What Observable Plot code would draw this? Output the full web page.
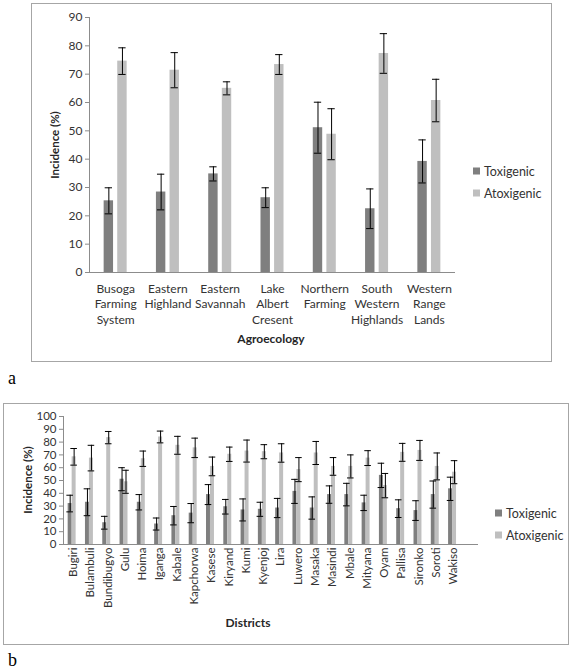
<!DOCTYPE html>
<html><head><meta charset="utf-8">
<script src="https://cdn.jsdelivr.net/npm/d3@7"></script>
<script src="https://cdn.jsdelivr.net/npm/@observablehq/plot@0.6"></script>
<style>
body{margin:0;background:#fff;font-family:Lato,"Open Sans",sans-serif;color:#333;}
#page{position:relative;width:576px;height:670px;overflow:hidden}
.box{position:absolute;border:1px solid #a6a6a6;box-sizing:border-box;}
.chart{position:absolute;}
.letter{position:absolute;font-family:"Liberation Serif",serif;font-size:18px;color:#000;line-height:1}
.ytitle{position:absolute;font-weight:bold;font-size:11.5px;transform:translate(-50%,-50%) rotate(-90deg);white-space:nowrap;color:#262626}
.xtitle{position:absolute;font-weight:bold;font-size:12px;transform:translate(-50%,-50%);white-space:nowrap;color:#262626}
.leg{position:absolute;font-size:12.5px;display:flex;align-items:center;gap:4px;transform:translateY(-50%);white-space:nowrap;color:#333}
.sw{width:7px;height:7px;display:inline-block}
</style></head><body><div id="page"></div>
<script>
// ---------- Panel a: agroecology ----------
const agroLabels = ["Busoga\nFarming\nSystem","Eastern\nHighland","Eastern\nSavannah","Lake\nAlbert\nCresent","Northern\nFarming","South\nWestern\nHighlands","Western\nRange\nLands"];
const agroTox     = [25.3, 28.4, 34.8, 26.4, 51.1, 22.5, 39.2];
const agroToxErr  = [4.6, 6.3, 2.5, 3.5, 9.0, 7.0, 7.6];
const agroAtox    = [74.6, 71.4, 65.0, 73.4, 48.8, 77.3, 60.7];
const agroAtoxErr = [4.7, 6.2, 2.3, 3.5, 9.0, 7.0, 7.5];
const yTicksA = [0,10,20,30,40,50,60,70,80,90];

// ---------- Panel b: districts ----------
const districts = ["Bugiri","Bulambuli","Bundibugyo","Gulu","Hoima","Iganga","Kabale","Kapchorwa","Kasese","Kiryand","Kumi","Kyenjoj","Lira","Luwero","Masaka","Masindi","Mbale","Mityana","Oyam","Pallisa","Sironko","Soroti","Wakiso"];
const distTox     = [32, 33, 17, 51, 33, 16, 22.5, 24.5, 39, 29.5, 27, 27.5, 28.5, 41.5, 28.5, 39, 39, 32.5, 54, 28, 26.5, 39, 43.5];
const distToxErr  = [6.5, 10.5, 5, 9, 6, 4.7, 7.2, 7.5, 7.8, 5.7, 8.6, 5.5, 7.5, 9.4, 8.7, 6.8, 8.8, 6, 9.5, 6.9, 7.7, 10.6, 9.1];
const distAtox    = [68.5, 67.5, 83.5, 49, 67, 84, 77.5, 75.5, 61, 70.5, 73, 72.5, 71.5, 58.5, 71.5, 61, 61, 67.5, 46, 72, 73.5, 61, 56.5];
const distAtoxErr = [6.5, 10, 4.8, 9, 6, 4.6, 7, 7.6, 7.3, 5.6, 8.6, 5.5, 7.2, 9.4, 9, 6.9, 9, 5.8, 9.5, 7, 7.8, 10.5, 9];
const yTicksB = [0,10,20,30,40,50,60,70,80,90,100];

const seriesNames = ["Toxigenic","Atoxigenic"];
const seriesColors = ["#7f7f7f","#bfbfbf"];

const page = document.getElementById("page");
function add(html){ const d=document.createElement("div"); d.innerHTML=html; const el=d.firstChild; page.appendChild(el); return el; }

function rows(tox, toxE, atox, atoxE){
  return tox.flatMap((v,i)=>[
    {i, s:"Toxigenic", v, e:toxE[i]},
    {i, s:"Atoxigenic", v:atox[i], e:atoxE[i]}
  ]);
}

function makeChart({data, n, slots, cap, labels, yTicks, yMax, width, height, mt, mr, mb, ml, fontSize, rotate, tickPad}){
  const lo = d => d.i + slots[d.s][0];
  const hi = d => d.i + slots[d.s][1];
  const mid = d => d.i + (slots[d.s][0]+slots[d.s][1])/2;
  return Plot.plot({
    width, height, marginTop: mt, marginRight: mr, marginBottom: mb, marginLeft: ml,
    style:{fontFamily:"Lato, 'Open Sans', sans-serif", fontSize: fontSize+"px", background:"transparent", color:"#333", overflow:"visible"},
    x:{domain:[0,n], axis:null, label:null},
    y:{domain:[0,yMax], axis:null, label:null},
    color:{domain:seriesNames, range:seriesColors},
    marks:[
      Plot.rectY(data, {x1: lo, x2: hi, y1: 0, y2: "v", fill: "s"}),
      Plot.ruleX(data, {x: mid, y1: d=>d.v-d.e, y2: d=>d.v+d.e, stroke:"#000", strokeWidth:1}),
      Plot.ruleY(data, {y: d=>d.v+d.e, x1: d=>mid(d)-cap, x2: d=>mid(d)+cap, stroke:"#000", strokeWidth:1}),
      Plot.ruleY(data, {y: d=>d.v-d.e, x1: d=>mid(d)-cap, x2: d=>mid(d)+cap, stroke:"#000", strokeWidth:1}),
      Plot.ruleY([0], {stroke:"#8c8c8c"}),
      Plot.ruleX([0], {stroke:"#8c8c8c"}),
      Plot.axisY({ticks: yTicks, label: null, tickSize: 4, tickPadding: 3, stroke:"#8c8c8c", fill:"#333", tickFormat: d=>String(d)}),
      Plot.axisX({ticks: labels.map((_,i)=>i+0.5), label: null, tickFormat: d=>labels[Math.floor(d)], tickSize: 0, tickPadding: tickPad, tickRotate: rotate, fill:"#333", lineHeight: 1.3})
    ]
  });
}

// Panel a
add('<div class="box" style="left:31px;top:3px;width:521px;height:359px"></div>');
const chartA = makeChart({
  data: rows(agroTox, agroToxErr, agroAtox, agroAtoxErr), n: agroLabels.length,
  slots: {Toxigenic:[0.28,0.46], Atoxigenic:[0.54,0.72]}, cap: 0.07,
  labels: agroLabels, yTicks: yTicksA, yMax: 90,
  width: 521, height: 359, mt: 14, mr: 97, mb: 90, ml: 58, fontSize: 12, rotate: 0, tickPad: 9
});
chartA.classList.add("chart"); chartA.style.left="31px"; chartA.style.top="3px";
page.appendChild(chartA);
add('<div class="ytitle" style="left:54px;top:145px">Incidence (%)</div>');
add('<div class="xtitle" style="left:271px;top:338px">Agroecology</div>');
seriesNames.forEach((s,k)=>add(`<div class="leg" style="left:473px;top:${171+22*k}px"><span class="sw" style="background:${seriesColors[k]}"></span>${s}</div>`));
add('<div class="letter" style="left:8px;top:369px">a</div>');

// Panel b
add('<div class="box" style="left:3px;top:403px;width:566px;height:242px"></div>');
const chartB = makeChart({
  data: rows(distTox, distToxErr, distAtox, distAtoxErr), n: districts.length + 1,
  slots: {Toxigenic:[0.27,0.5], Atoxigenic:[0.5,0.73]}, cap: 0.19,
  labels: districts, yTicks: yTicksB, yMax: 100,
  width: 566, height: 242, mt: 13, mr: 91, mb: 101, ml: 60, fontSize: 11.5, rotate: -90, tickPad: 3
});
chartB.classList.add("chart"); chartB.style.left="3px"; chartB.style.top="403px";
page.appendChild(chartB);
add('<div class="ytitle" style="left:27px;top:480px">Incidence (%)</div>');
add('<div class="xtitle" style="left:248px;top:622px">Districts</div>');
seriesNames.forEach((s,k)=>add(`<div class="leg" style="left:495px;top:${513+22*k}px"><span class="sw" style="background:${seriesColors[k]}"></span>${s}</div>`));
add('<div class="letter" style="left:8px;top:651px">b</div>');
</script>
</body></html>
